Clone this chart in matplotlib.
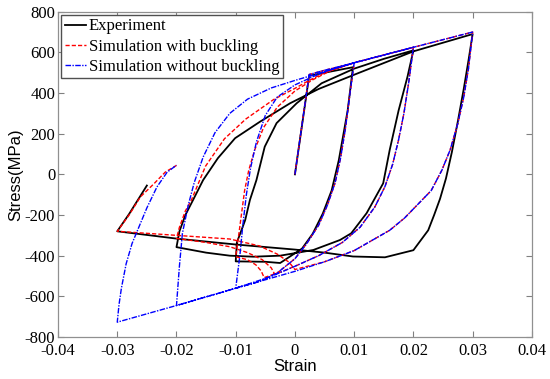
import matplotlib
matplotlib.use('Agg')
import matplotlib.pyplot as plt

# experiment (black)
exp_strain = [0, 0.0024, 0.005, 0.0098,
              0.0089, 0.0074, 0.0062, 0.0047, 0.003, 0.0012, -0.0025, -0.005, -0.01,
              -0.0098, -0.0084, -0.0076, -0.0065, -0.0051, -0.0031, 0.0003, 0.0045, 0.01, 0.015, 0.02,
              0.019, 0.0175, 0.016, 0.0149, 0.0121, 0.0095, 0.0076, 0.0031, -0.0025, -0.007, -0.011, -0.015, -0.02,
              -0.0195, -0.0185, -0.0172, -0.0155, -0.013, -0.0101, -0.0059, -0.0008, 0.004, 0.01, 0.02, 0.03,
              0.0293, 0.0285, 0.0275, 0.0265, 0.0255, 0.0245, 0.0235, 0.0225, 0.02, 0.0152, 0.0098, 0.005, 0.0,
              -0.01, -0.02, -0.03,
              -0.028, -0.0265, -0.025]
exp_stress = [0, 485, 500, 527,
              314, 69, -79, -193, -292, -365, -436, -430, -428,
              -335, -225, -126, -28, 136, 252, 350, 448, 520, 568, 610,
              480, 314, 120, -44, -191, -290, -323, -372, -400, -405, -400, -385, -358,
              -280, -200, -126, -28, 80, 178, 259, 350, 420, 490, 605, 690,
              560, 420, 260, 110, -20, -120, -200, -275, -373, -408, -404, -385, -370,
              -345, -316, -280,
              -195, -125, -55]

# simulation with buckling (red)
buck_strain = [0, 0.0024, 0.005, 0.01,
               0.0093, 0.0085, 0.0077, 0.0068, 0.0055, 0.004, 0.002, 0.0, -0.003, -0.0052,
               -0.0057, -0.0066, -0.008, -0.01,
               -0.0095, -0.009, -0.0085, -0.0078, -0.0068, -0.0053, -0.003, 0.0, 0.003, 0.006, 0.01, 0.015, 0.02,
               0.0192, 0.0184, 0.0175, 0.0165, 0.0152, 0.0135, 0.011, 0.008, 0.004, 0.0, -0.0034,
               -0.004, -0.0055, -0.008, -0.011, -0.015, -0.02,
               -0.0195, -0.0185, -0.0175, -0.0151, -0.0119, -0.0083, -0.0036, 0.0, 0.0024, 0.005, 0.01, 0.02, 0.03,
               0.0293, 0.0285, 0.0275, 0.0262, 0.0248, 0.023, 0.021, 0.0185, 0.016, 0.013, 0.01, 0.005, 0.0,
               -0.001, -0.003, -0.006, -0.011, -0.02, -0.025, -0.03,
               -0.028, -0.0261, -0.0238, -0.0219, -0.02]
buck_stress = [0, 491, 512, 548,
               400, 220, 80, -40, -150, -250, -340, -415, -485, -508,
               -475, -445, -420, -405,
               -300, -190, -80, 20, 120, 230, 330, 410, 465, 510, 549, 587, 625,
               450, 300, 170, 50, -60, -160, -260, -335, -400, -452, -492,
               -460, -420, -385, -356, -335, -315,
               -260, -180, -128, 40, 175, 272, 368, 423, 462, 500, 549, 625, 700,
               520, 380, 250, 120, 20, -80, -140, -215, -275, -325, -375, -430, -468,
               -432, -392, -352, -318, -300, -290, -280,
               -200, -111, -46, 11, 44]

# simulation without buckling (blue)
nobuck_strain = [0, 0.0024, 0.005, 0.01,
                 0.0093, 0.0085, 0.0077, 0.0068, 0.0055, 0.004, 0.002, 0.0, -0.003, -0.006, -0.01,
                 -0.0093, -0.0088, -0.0082, -0.0075, -0.0065, -0.005, -0.003, 0.0, 0.003, 0.006, 0.01, 0.015, 0.02,
                 0.0192, 0.0184, 0.0175, 0.0165, 0.0152, 0.0135, 0.011, 0.008, 0.004, 0.0, -0.004, -0.01, -0.02,
                 -0.0195, -0.019, -0.018, -0.017, -0.0155, -0.0135, -0.011, -0.008, -0.004, 0.0, 0.005, 0.01, 0.02, 0.03,
                 0.0293, 0.0285, 0.0275, 0.0262, 0.0248, 0.023, 0.021, 0.0185, 0.016, 0.013, 0.01, 0.005, 0.0,
                 -0.01, -0.02, -0.03,
                 -0.0297, -0.0293, -0.0285, -0.0275, -0.0265, -0.025, -0.0233, -0.0216, -0.02]
nobuck_stress = [0, 491, 512, 548,
                 400, 220, 80, -40, -150, -250, -340, -415, -485, -527, -560,
                 -400, -250, -100, 30, 160, 290, 380, 440, 480, 515, 549, 587, 625,
                 450, 300, 170, 50, -60, -160, -260, -335, -400, -452, -502, -560, -645,
                 -450, -290, -150, -40, 85, 205, 300, 370, 425, 462, 505, 549, 625, 700,
                 520, 380, 250, 120, 20, -80, -140, -215, -275, -325, -375, -430, -477,
                 -560, -645, -727,
                 -640, -560, -440, -340, -270, -165, -62, 10, 45]

xticks = [-0.04, -0.03, -0.02, -0.01, 0, 0.01, 0.02, 0.03, 0.04]
xtick_labels = ['-0.04', '-0.03', '-0.02', '-0.01', '0', '0.01', '0.02', '0.03', '0.04']
yticks = [-800, -600, -400, -200, 0, 200, 400, 600, 800]
ytick_labels = ['-800', '-600', '-400', '-200', '0', '200', '400', '600', '800']

serif = ['Liberation Serif', 'DejaVu Serif']
sans = ['Liberation Sans', 'DejaVu Sans']

fig = plt.figure(figsize=(5.5, 3.79), dpi=100)
ax = fig.add_axes([0.1055, 0.1108, 0.8615, 0.8583])

ax.plot(exp_strain, exp_stress, color='black', linewidth=1.3, label='Experiment')
ax.plot(buck_strain, buck_stress, color='red', linewidth=1.0, dashes=(3, 1.5),
        label='Simulation with buckling')
ax.plot(nobuck_strain, nobuck_stress, color='blue', linewidth=1.0, dashes=(4, 1, 1, 1),
        label='Simulation without buckling')

ax.set_xlim(-0.04, 0.04)
ax.set_ylim(-800, 800)
ax.set_xticks(xticks)
ax.set_xticklabels(xtick_labels, fontfamily=serif, fontsize=12)
ax.set_yticks(yticks)
ax.set_yticklabels(ytick_labels, fontfamily=serif, fontsize=12)
ax.tick_params(direction='in', top=True, right=True, length=4, color='#808080')
ax.tick_params(axis='x', pad=4)
ax.tick_params(axis='y', pad=2)
for s in ax.spines.values():
    s.set_color('#909090')
    s.set_linewidth(0.9)

ax.set_xlabel('Strain', fontfamily=sans, fontsize=12, labelpad=0)
ax.set_ylabel('Stress(MPa)', fontfamily=sans, fontsize=12, labelpad=1)

leg = ax.legend(loc='upper left', prop={'family': serif, 'size': 12},
                fancybox=False, framealpha=1, edgecolor='#505050',
                borderaxespad=0.2, borderpad=0.2, labelspacing=0.25,
                handlelength=1.3, handletextpad=0.15)
leg.get_frame().set_linewidth(1.0)

fig.savefig('out.png', dpi=100)
